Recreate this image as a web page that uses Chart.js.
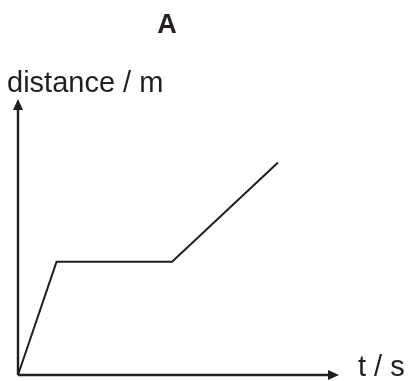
<!DOCTYPE html>
<html>
<head>
<meta charset="utf-8">
<script src="https://cdn.jsdelivr.net/npm/chart.js@4"></script>
<style>
  html, body { margin: 0; padding: 0; background: #fff; }
  #wrap { width: 409px; height: 381px; }
</style>
</head>
<body>
<div id="wrap"><canvas id="graph"></canvas></div>
<script>
// time and distance at the corners of the graph
const times = [0, 1.2, 4.8, 8.1];
const distances = [0, 4.1, 4.1, 7.7];
const graphTitle = 'A';
const yLabel = 'distance / m';
const xLabel = 't / s';

const ink = '#231f20';

// axes with arrow heads plus the labels
const axesPlugin = {
    id: 'arrowAxes',
    afterDatasetsDraw(chart) {
        const { ctx, chartArea } = chart;
        const { left, right, top, bottom } = chartArea;
        ctx.save();
        ctx.strokeStyle = ink;
        ctx.fillStyle = ink;
        ctx.lineWidth = 2.4;
        ctx.beginPath();
        ctx.moveTo(left, bottom);
        ctx.lineTo(left, top + 8);
        ctx.moveTo(left, bottom);
        ctx.lineTo(right - 8, bottom);
        ctx.stroke();

        // y arrow
        ctx.beginPath();
        ctx.moveTo(left, top);
        ctx.lineTo(left - 5, top + 11);
        ctx.lineTo(left + 5, top + 11);
        ctx.closePath();
        ctx.fill();
        // x arrow
        ctx.beginPath();
        ctx.moveTo(right, bottom);
        ctx.lineTo(right - 11, bottom - 5);
        ctx.lineTo(right - 11, bottom + 5);
        ctx.closePath();
        ctx.fill();

        ctx.textBaseline = 'alphabetic';
        ctx.font = 'bold 27px "Liberation Sans", Arial, sans-serif';
        ctx.textAlign = 'center';
        ctx.fillText(graphTitle, 167, 33);

        ctx.font = '29px "Liberation Sans", Arial, sans-serif';
        ctx.textAlign = 'left';
        ctx.fillText(yLabel, 7, 92);
        ctx.fillText(xLabel, 358, 376);
        ctx.restore();
    }
};

new Chart(document.getElementById('graph'), {
    type: 'line',
    data: {
        datasets: [{
            data: times.map((t, i) => ({ x: t, y: distances[i] })),
            borderColor: ink,
            borderWidth: 2,
            pointRadius: 0,
            tension: 0,
            fill: false,
            clip: false
        }]
    },
    options: {
        responsive: true,
        maintainAspectRatio: false,
        animation: false,
        layout: {
            padding: { left: 18, right: 70, top: 99, bottom: 6 }
        },
        scales: {
            x: { type: 'linear', min: 0, max: 10, display: false },
            y: { type: 'linear', min: 0, max: 10, display: false }
        },
        plugins: {
            legend: { display: false },
            tooltip: { enabled: false }
        }
    },
    plugins: [axesPlugin]
});
</script>
</body>
</html>
